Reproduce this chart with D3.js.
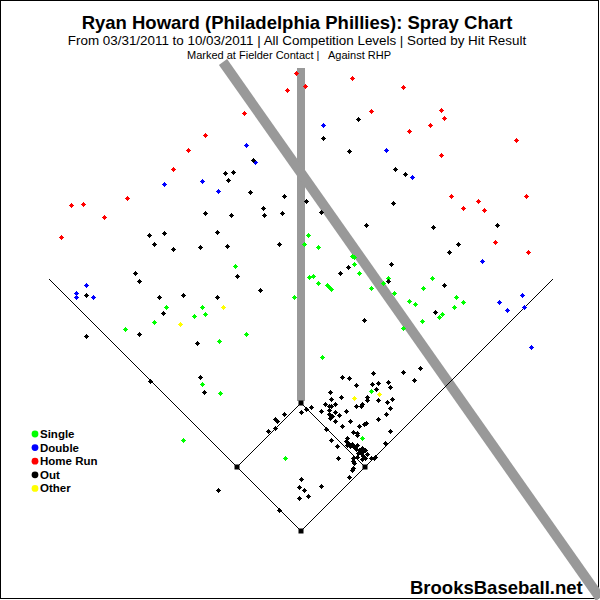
<!DOCTYPE html>
<html>
<head>
<meta charset="utf-8">
<script src="https://cdn.jsdelivr.net/npm/d3@7/dist/d3.min.js"></script>
<style>
  body { margin: 0; background: #fff; }
  text { font-family: "Liberation Sans", Arial, sans-serif; }
</style>
</head>
<body>
<div id="chart"></div>
<script>
// spray positions (x right, y down)
var singles = [[308,235],[304,244],[318,247],[352,256],[354,257],[354,264],[359,273],[309,277],[313,276],
  [318,283],[327,285],[329,287],[331,289],[371,288],[388,278],[383,283],[394,293],[432,278],[423,288],
  [409,301],[415,304],[456,297],[463,302],[454,307],[442,314],[439,317],[422,321],[403,328],[322,357],
  [371,391],[362,438],[235,266],[166,307],[202,307],[205,314],[194,316],[154,322],[125,329],[246,334],
  [219,341],[202,384],[220,393],[183,440],[294,297],[285,458]];

var doubles = [[246,145],[255,162],[164,184],[202,181],[218,191],[323,125],[386,150],[412,177],[86,285],
  [76,293],[76,297],[93,297],[482,261],[499,302],[507,310],[522,295],[524,307],[531,347]];

var homeRuns = [[296,73],[305,86],[287,90],[244,113],[205,135],[188,150],[173,169],[127,198],[71,205],
  [83,204],[104,217],[61,237],[352,78],[403,87],[371,111],[441,110],[444,118],[430,125],[409,131],
  [516,140],[441,155],[451,196],[526,196],[463,208],[478,201],[484,210],[495,242],[528,252]];

var outs = [[253,160],[225,173],[233,172],[228,180],[250,192],[284,196],[263,208],[264,215],[282,213],
  [205,213],[231,215],[149,235],[164,233],[217,232],[154,244],[173,249],[200,247],[227,246],[279,244],
  [358,119],[323,138],[349,151],[395,169],[405,174],[306,201],[393,203],[321,212],[366,225],[433,227],
  [497,225],[458,244],[449,252],[135,273],[139,281],[86,295],[159,297],[183,295],[217,297],[237,276],
  [260,290],[163,313],[86,336],[139,334],[197,343],[200,377],[204,392],[150,381],[284,414],[275,419],
  [277,421],[275,428],[268,431],[218,490],[391,264],[348,267],[340,273],[388,281],[444,285],[435,312],
  [364,320],[420,368],[403,372],[414,380],[342,377],[349,378],[373,373],[356,385],[372,384],[378,383],
  [376,389],[388,382],[390,387],[330,392],[341,397],[331,399],[367,397],[367,400],[378,400],[392,399],
  [356,406],[361,406],[362,404],[387,402],[390,408],[325,404],[329,406],[331,406],[335,404],[321,411],
  [329,410],[335,412],[346,411],[329,414],[332,416],[330,418],[339,415],[335,421],[350,421],[342,426],
  [359,426],[364,424],[366,423],[378,419],[386,414],[326,429],[390,431],[353,432],[357,433],[357,435],
  [331,440],[347,438],[346,441],[348,443],[347,445],[337,446],[352,444],[350,446],[354,447],[356,449],
  [359,450],[357,445],[362,448],[363,451],[361,453],[365,450],[367,454],[363,456],[365,458],[362,459],
  [358,453],[357,457],[353,458],[353,461],[354,463],[353,468],[352,470],[349,477],[371,458],[374,458],
  [375,457],[338,458],[385,443],[311,407],[306,409],[301,412],[301,479],[299,487],[304,490],[299,498],
  [308,496],[321,486],[279,510]];

var others = [[223,307],[180,324],[354,398],[379,394]];

var resultNames = ['Single', 'Double', 'Home Run', 'Out', 'Other'];
var resultColors = ['#00ff00', '#0000ff', '#ff0000', '#000000', '#ffff00'];

// field outline
var bases = [[301,531],[365,467],[301,403],[237,467]];
var foulLines = [[[301,531],[49,279]], [[301,531],[553,279]]];
var markerLines = [[[301,68],[301,401]], [[223,62],[600,598]]];

var width = 600, height = 600;
var x = d3.scaleLinear().domain([0, 600]).range([0, width]);
var y = d3.scaleLinear().domain([0, 600]).range([0, height]);

var svg = d3.select('#chart').append('svg')
  .attr('width', width)
  .attr('height', height);

svg.append('rect')
  .attr('x', 0.5).attr('y', 0.5)
  .attr('width', width - 2).attr('height', height - 2)
  .attr('fill', '#fff')
  .attr('stroke', '#000');

// titles
svg.append('text')
  .attr('x', 297).attr('y', 29)
  .attr('text-anchor', 'middle')
  .style('font-size', '18.5px').style('font-weight', 'bold')
  .text('Ryan Howard (Philadelphia Phillies): Spray Chart');
svg.append('text')
  .attr('x', 297).attr('y', 45)
  .attr('text-anchor', 'middle')
  .style('font-size', '13.4px')
  .text('From 03/31/2011 to 10/03/2011 | All Competition Levels | Sorted by Hit Result');
svg.append('text')
  .attr('x', 187).attr('y', 59)
  .style('font-size', '11px').style('white-space', 'pre')
  .text('Marked at Fielder Contact |   Against RHP');

var line = d3.line()
  .x(function(d) { return x(d[0]); })
  .y(function(d) { return y(d[1]); });

// grey guide bars
svg.selectAll('path.guide')
  .data(markerLines)
  .enter().append('path')
  .attr('class', 'guide')
  .attr('d', line)
  .attr('stroke', '#999')
  .attr('stroke-width', function(d, i) { return i === 0 ? 8 : 10; })
  .attr('fill', 'none');

// foul lines + infield
svg.selectAll('path.foul')
  .data(foulLines)
  .enter().append('path')
  .attr('class', 'foul')
  .attr('d', line)
  .attr('stroke', '#000')
  .attr('fill', 'none');

svg.append('path')
  .attr('d', line(bases) + 'Z')
  .attr('stroke', '#000')
  .attr('fill', 'none');

svg.selectAll('rect.base')
  .data(bases)
  .enter().append('rect')
  .attr('class', 'base')
  .attr('x', function(d) { return x(d[0]) - 2.5; })
  .attr('y', function(d) { return y(d[1]) - 2.5; })
  .attr('width', 5).attr('height', 5)
  .attr('fill', '#000');

// small pixel diamond marker
var marker = 'M-0.5,-2.5h1v1h1v1h1v1h-1v1h-1v1h-1v-1h-1v-1h-1v-1h1v-1h1z';
var groups = [singles, doubles, homeRuns, outs, others];

groups.forEach(function(pts, i) {
  svg.append('g')
    .attr('class', 'hits')
    .selectAll('path')
    .data(pts)
    .enter().append('path')
    .attr('d', marker)
    .attr('transform', function(d) {
      return 'translate(' + (Math.round(x(d[0])) + 0.5) + ',' + (Math.round(y(d[1])) + 0.5) + ')';
    })
    .attr('fill', resultColors[i])
    .attr('shape-rendering', 'crispEdges');
});

// legend
var legend = svg.selectAll('g.legend')
  .data(resultNames)
  .enter().append('g')
  .attr('class', 'legend')
  .attr('transform', function(d, i) { return 'translate(35,' + (434 + i * 13.6) + ')'; });

legend.append('circle')
  .attr('r', 3.4)
  .attr('fill', function(d, i) { return resultColors[i]; });

legend.append('text')
  .attr('x', 5).attr('y', 4)
  .style('font-size', '11.5px').style('font-weight', 'bold')
  .text(function(d) { return d; });

svg.append('text')
  .attr('x', 410).attr('y', 594)
  .style('font-size', '18.5px').style('font-weight', 'bold')
  .text('BrooksBaseball.net');
</script>
</body>
</html>
